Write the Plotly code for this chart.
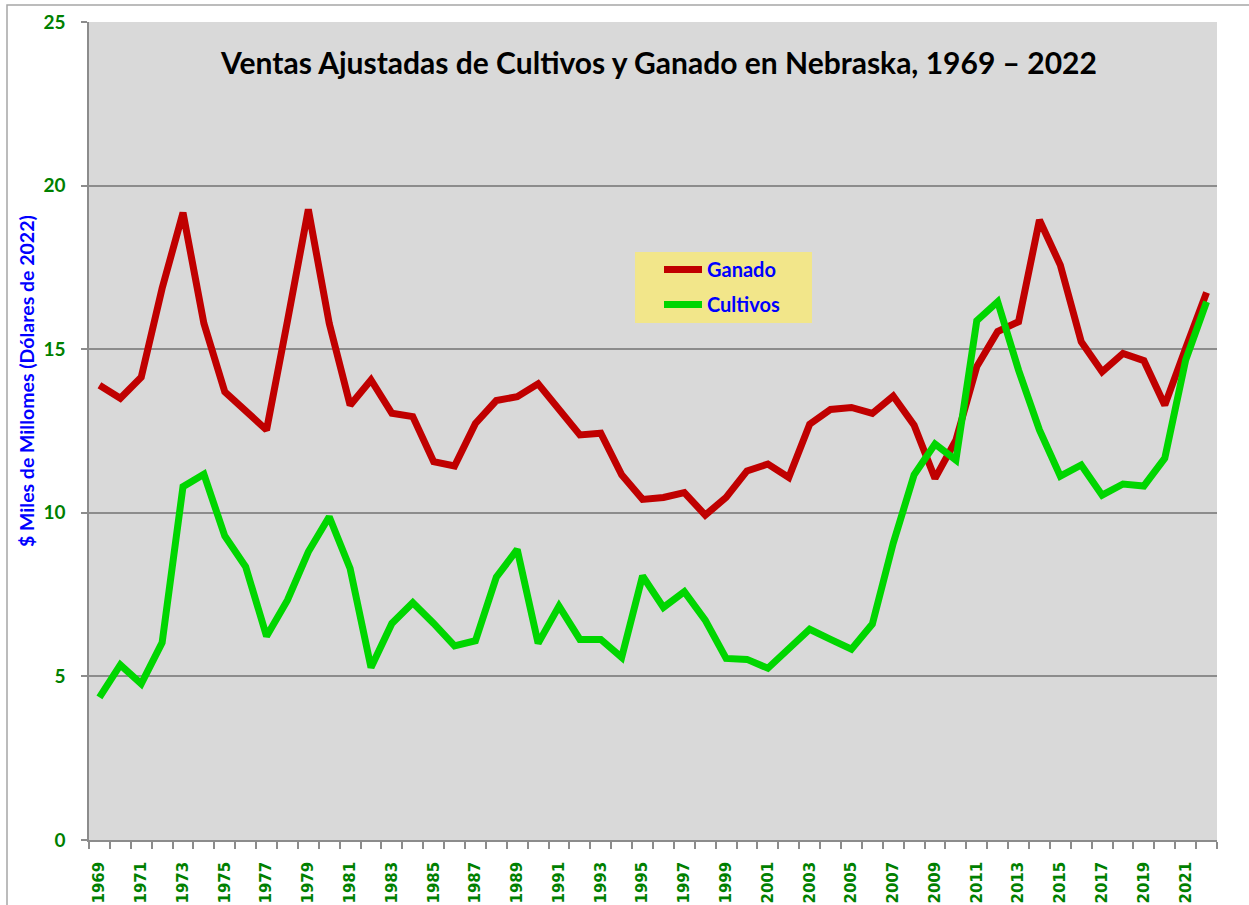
import plotly.graph_objects as go

years = list(range(1969, 2023))
ganado = [13.90, 13.50, 14.14, 16.86, 19.17, 15.79, 13.70, 13.09, 12.53, 15.86,
          19.27, 15.79, 13.29, 14.06, 13.04, 12.94, 11.56, 11.43, 12.73, 13.43,
          13.55, 13.94, 13.16, 12.38, 12.43, 11.16, 10.41, 10.47, 10.62, 9.93,
          10.47, 11.28, 11.49, 11.08, 12.71, 13.16, 13.22, 13.04, 13.57, 12.68,
          11.05, 12.22, 14.47, 15.54, 15.84, 18.95, 17.57, 15.23, 14.31, 14.87,
          14.65, 13.29, 15.03, 16.73]
cultivos = [4.36, 5.35, 4.77, 6.03, 10.80, 11.18, 9.29, 8.35, 6.23, 7.33,
            8.81, 9.88, 8.30, 5.27, 6.62, 7.25, 6.62, 5.93, 6.09, 8.03,
            8.88, 6.01, 7.15, 6.13, 6.13, 5.58, 8.07, 7.11, 7.59, 6.72,
            5.55, 5.52, 5.25, 5.86, 6.44, 6.13, 5.83, 6.60, 9.07, 11.16,
            12.10, 11.61, 15.87, 16.45, 14.36, 12.53, 11.12, 11.46, 10.54, 10.88,
            10.82, 11.67, 14.67, 16.45]
tick_years = years[::2]
tick_labels = [str(y) for y in tick_years]
y_ticks = [0, 5, 10, 15, 20, 25]

title_text = "Ventas Ajustadas de Cultivos y Ganado en Nebraska, 1969 \u2013 2022"
ytitle_text = "$ Miles de Millomes (Dólares de 2022)"

GRID = "#8C8C8C"
GREENTXT = "#008000"
BLUE = "#0000FF"

# plot area in pixels: x 89..1217, y 22..840
L, R, T, B = 89, 32, 22, 65
PW, PH = 1249 - L - R, 905 - T - B


def px(x):
    return (x - L) / PW


def py(y):
    return (905 - B - y) / PH


fig = go.Figure()
fig.add_trace(go.Scatter(x=years, y=ganado, mode="lines", name="Ganado",
                         legendgroup="g1",
                         line=dict(color="#C00000", width=7)))
fig.add_trace(go.Scatter(x=years, y=cultivos, mode="lines", name="Cultivos",
                         legendgroup="g2",
                         line=dict(color="#00D600", width=7)))

boundaries = [y - 0.5 for y in years] + [years[-1] + 0.5]

fig.update_layout(
    width=1249, height=905,
    margin=dict(l=L, r=R, t=T, b=B, autoexpand=False),
    paper_bgcolor="white",
    plot_bgcolor="#D9D9D9",
    showlegend=True,
    legend=dict(x=px(659), y=py(250), xanchor="left", yanchor="top",
                bgcolor="rgba(0,0,0,0)", borderwidth=0,
                font=dict(family="Lato", size=20, color=BLUE, weight="bold"),
                itemwidth=38, traceorder="grouped", tracegroupgap=6),
    title=dict(text=title_text, x=659 / 1249, xanchor="center",
               y=1 - 63 / 905, yanchor="middle", yref="container", xref="container",
               font=dict(family="Lato", size=30, color="black", weight="bold")),
)

fig.update_xaxes(
    automargin=False,
    range=[years[0] - 0.5, years[-1] + 0.5],
    tickmode="array", tickvals=tick_years, ticktext=tick_labels,
    tickangle=-90, ticks="", ticklabelstandoff=14,
    tickfont=dict(family="DejaVu Sans", size=15, color=GREENTXT, weight="bold"),
    showgrid=False, zeroline=False,
    showline=True, linecolor=GRID, linewidth=1.5,
    minor=dict(tickmode="array", tickvals=boundaries, ticks="outside",
               ticklen=7, tickcolor=GRID, tickwidth=1.5, showgrid=False),
)
fig.update_yaxes(
    automargin=False,
    range=[0, 25], tickmode="array", tickvals=y_ticks,
    ticks="outside", ticklen=6, tickcolor=GRID, tickwidth=1.5,
    ticklabelstandoff=12,
    tickfont=dict(family="Lato", size=19, color=GREENTXT, weight="bold"),
    showgrid=True, gridcolor=GRID, gridwidth=1.5, zeroline=False,
    showline=True, linecolor=GRID, linewidth=1.5,
)

fig.add_annotation(text=ytitle_text, textangle=-90, showarrow=False,
                   xref="paper", yref="paper", x=px(26), y=py(381),
                   xanchor="center", yanchor="middle",
                   font=dict(family="Lato", size=19.5, color=BLUE, weight="bold"))

# legend background box
fig.add_shape(type="rect", xref="paper", yref="paper",
              x0=px(635), x1=px(812), y0=py(323), y1=py(252),
              line=dict(width=0), fillcolor="#F2E68A", layer="below")

# outer chart frame
fig.add_shape(type="rect", xref="paper", yref="paper",
              x0=px(7), x1=px(1300), y0=py(960), y1=py(5),
              line=dict(color="#A6A6A6", width=1.5), fillcolor="rgba(0,0,0,0)",
              layer="below")

fig.write_html(
    "out.html",
    config={"displayModeBar": False},
    post_script="document.body.style.margin='0';document.body.style.overflow='hidden';",
)
